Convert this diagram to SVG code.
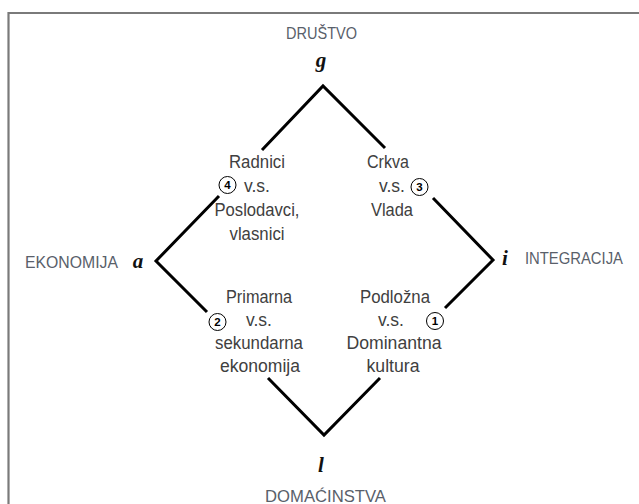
<svg xmlns="http://www.w3.org/2000/svg" width="639" height="504" viewBox="0 0 639 504">
<style>
.frame{stroke:#7a7a7a;stroke-width:2.2;fill:none}
.edge{stroke:#000;stroke-width:3;fill:none;stroke-linecap:butt;stroke-linejoin:miter}
.outer{font-family:"Liberation Sans",Arial,sans-serif;font-size:16.5px;fill:#59606a}
.inner{font-family:"Liberation Sans",Arial,sans-serif;font-size:17.5px;fill:#404040;text-anchor:middle}
.sym{font-family:"Liberation Serif","Times New Roman",serif;font-style:italic;font-weight:bold;font-size:21px;fill:#111;text-anchor:middle}
.num circle{fill:#fff;stroke:#000;stroke-width:1}
.num text{font-family:"Liberation Sans",Arial,sans-serif;font-weight:bold;font-size:11.5px;fill:#000;text-anchor:middle}
</style>
<rect width="639" height="504" fill="#fff"/>
<g id="frame">
<line class="frame" x1="8.5" y1="13" x2="639" y2="13"/>
<line class="frame" x1="8.5" y1="12" x2="8.5" y2="504"/>
</g>
<g id="connectors">
<polyline class="edge" points="262,150 323,86 385,148"/>
<polyline class="edge" points="219,196 156,261 207,312"/>
<polyline class="edge" points="268,378 324,435 380,378"/>
<polyline class="edge" points="433,198 493,260 445,308"/>
</g>
<g id="node-g">
<text class="outer" x="286" y="39" textLength="71" lengthAdjust="spacingAndGlyphs">DRUŠTVO</text>
<text class="sym" x="321" y="67">g</text>
</g>
<g id="node-a">
<text class="outer" x="25" y="268" textLength="93" lengthAdjust="spacingAndGlyphs">EKONOMIJA</text>
<text class="sym" x="138" y="268">a</text>
</g>
<g id="node-i">
<text class="outer" x="525" y="264" textLength="98" lengthAdjust="spacingAndGlyphs">INTEGRACIJA</text>
<text class="sym" x="505" y="265">i</text>
</g>
<g id="node-l">
<text class="outer" x="265" y="502" textLength="121" lengthAdjust="spacingAndGlyphs">DOMAĆINSTVA</text>
<text class="sym" x="321" y="472">l</text>
</g>
<g id="node-4">
<text class="inner" x="257" y="168" textLength="56" lengthAdjust="spacingAndGlyphs">Radnici</text>
<text class="inner" x="257" y="192">v.s.</text>
<text class="inner" x="257" y="216" textLength="85" lengthAdjust="spacingAndGlyphs">Poslodavci,</text>
<text class="inner" x="257" y="240" textLength="55" lengthAdjust="spacingAndGlyphs">vlasnici</text>
<g class="num"><circle cx="227.5" cy="185" r="8.5"/><text x="227.5" y="189.2">4</text></g>
</g>
<g id="node-3">
<text class="inner" x="388" y="168" textLength="42" lengthAdjust="spacingAndGlyphs">Crkva</text>
<text class="inner" x="392" y="192">v.s.</text>
<text class="inner" x="392" y="216" textLength="42" lengthAdjust="spacingAndGlyphs">Vlada</text>
<g class="num"><circle cx="419.5" cy="187" r="8.5"/><text x="419.5" y="191.2">3</text></g>
</g>
<g id="node-2">
<text class="inner" x="259" y="303" textLength="66" lengthAdjust="spacingAndGlyphs">Primarna</text>
<text class="inner" x="259" y="326">v.s.</text>
<text class="inner" x="259" y="349" textLength="88" lengthAdjust="spacingAndGlyphs">sekundarna</text>
<text class="inner" x="260" y="372" textLength="80" lengthAdjust="spacingAndGlyphs">ekonomija</text>
<g class="num"><circle cx="217.5" cy="322" r="8.5"/><text x="217.5" y="326.2">2</text></g>
</g>
<g id="node-1">
<text class="inner" x="395" y="303" textLength="70" lengthAdjust="spacingAndGlyphs">Podložna</text>
<text class="inner" x="391" y="326">v.s.</text>
<text class="inner" x="394" y="349" textLength="95" lengthAdjust="spacingAndGlyphs">Dominantna</text>
<text class="inner" x="393" y="372" textLength="53" lengthAdjust="spacingAndGlyphs">kultura</text>
<g class="num"><circle cx="435" cy="321" r="8.5"/><text x="435" y="325.2">1</text></g>
</g>
</svg>
